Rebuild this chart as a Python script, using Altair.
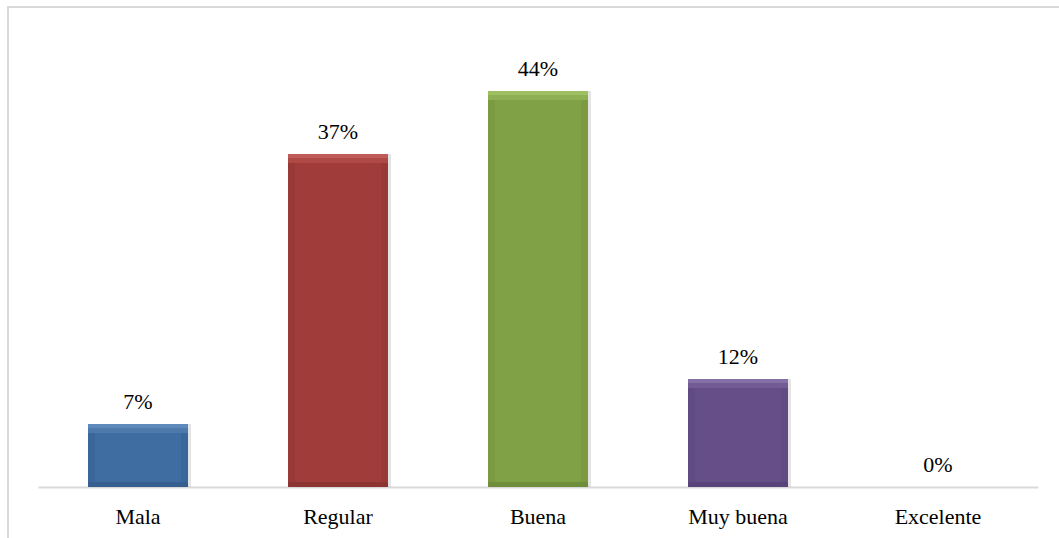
import altair as alt
import pandas as pd

categories = ["Mala", "Regular", "Buena", "Muy buena", "Excelente"]
values = [7, 37, 44, 12, 0]
labels = ["7%", "37%", "44%", "12%", "0%"]

face_colors = ["#3f6ca1", "#a03d3b", "#80a146", "#664f88", "#7f7f7f"]
light_colors = ["#5e89bb", "#bf5c59", "#9fbf63", "#8470a6", "#999999"]
mid_colors = ["#4d79ad", "#af4946", "#8fb052", "#735c95", "#8c8c8c"]
dark_colors = ["#365e8f", "#8c3432", "#6f8e3c", "#58437a", "#666666"]
side_colors = ["#3b669b", "#993937", "#7b9a42", "#614b83", "#777777"]

df = pd.DataFrame({"cat": categories, "val": values, "lab": labels})

FONT = "Liberation Serif"

x = alt.X("cat:N", sort=categories, title=None,
          scale=alt.Scale(paddingInner=0.5, paddingOuter=0.25),
          axis=alt.Axis(labelAngle=0, labelFont=FONT, labelFontSize=22, labelColor="#000000",
                        labelBaseline="alphabetic", labelPadding=36, ticks=False, tickSize=0,
                        domainColor="#d9d9d9", domainWidth=2, grid=False))
y = alt.Y("val:Q", title=None, scale=alt.Scale(domain=[0, 50], nice=False, zero=True),
          axis=None)
y2zero = alt.Y2("zero:Q")

def cscale(rng):
    return alt.Color("cat:N", scale=alt.Scale(domain=categories, range=rng), legend=None)

base = alt.Chart(df).transform_calculate(zero="0").encode(x=x)
pos = base.transform_filter("datum.val > 0")

border = alt.Chart(df).mark_rect(filled=False, stroke="#d9d9d9", strokeWidth=1.5).encode(
    x=alt.value(-30), x2=alt.value(1031), y=alt.value(-30), y2=alt.value(511))

shadow = pos.mark_bar(xOffset=3, opacity=0.3, color="#a6a6a6").encode(y=y, y2=y2zero)
face = pos.mark_bar().encode(y=y, y2=y2zero, color=cscale(face_colors))
left = pos.mark_bar(size=7, xOffset=-46.5).encode(y=y, y2=y2zero, color=cscale(side_colors))
right = pos.mark_bar(size=7, xOffset=46.5).encode(y=y, y2=y2zero, color=cscale(side_colors))
top_mid = pos.mark_bar(y2Offset=9).encode(y=y, y2=alt.Y2("val:Q"), color=cscale(mid_colors))
top = pos.mark_bar(y2Offset=4).encode(y=y, y2=alt.Y2("val:Q"), color=cscale(light_colors))
bottom = pos.mark_bar(yOffset=-5).encode(y=alt.Y("zero:Q", scale=alt.Scale(domain=[0, 50], nice=False), axis=None),
                                          y2=y2zero, color=cscale(dark_colors))

text = base.mark_text(font=FONT, fontSize=22, baseline="alphabetic", dy=-15, color="#000000").encode(
    y=y, text="lab:N")

chart = alt.layer(border, shadow, face, left, right, top_mid, top, bottom, text).resolve_scale(
    color="independent"
).properties(
    width=1000, height=450,
    autosize=alt.AutoSizeParams(type="none"),
    padding={"left": 38, "top": 37, "right": 21, "bottom": 51},
    background="#ffffff",
).configure_view(stroke=None)

chart.save("out.html", embed_options={"renderer": "svg", "actions": False})
